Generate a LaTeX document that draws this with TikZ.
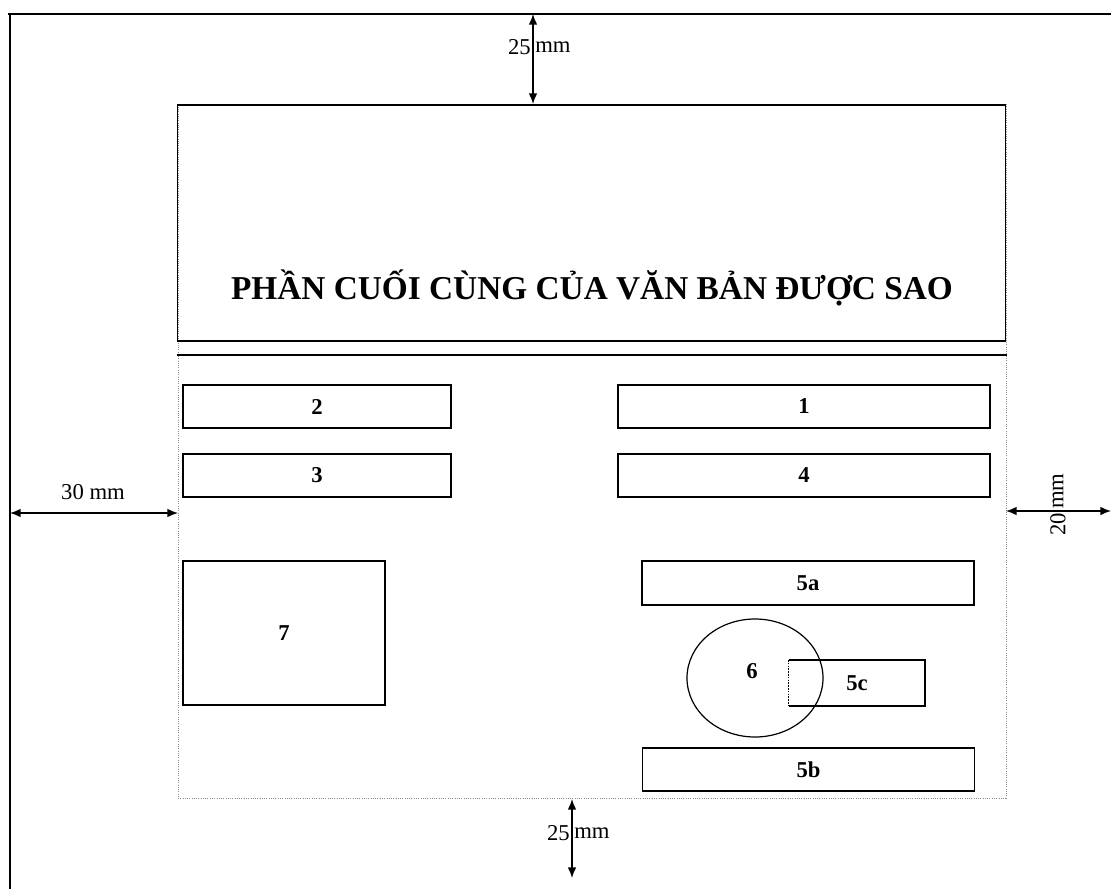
\documentclass[tikz,border=0pt]{standalone}
\usepackage{fontspec}
\setmainfont{Liberation Serif}
\usepackage{tikz}
\usetikzlibrary{shapes.geometric, arrows.meta, positioning}
\tikzset{
    field/.style={rectangle, draw=black, line width=1.4pt, minimum height=32.5pt, inner sep=0pt, text centered, font=\bfseries\fontsize{17}{20}\selectfont},
    narrowfield/.style={field, minimum width=201pt},
    widefield/.style={field, minimum width=279pt},
    signfield/.style={field, minimum width=249pt},
    stamp/.style={ellipse, draw=black, line width=0.9pt, minimum width=102pt, minimum height=88.5pt, inner sep=0pt},
    margin/.style={rectangle, draw=black!45, densely dotted, line width=0.7pt, minimum width=621pt, minimum height=520.5pt, inner sep=0pt},
    measure/.style={font=\fontsize{17}{20}\selectfont, inner sep=1.5pt},
    dimarrow/.style={line width=1.1pt, {Latex[length=8pt,width=6.5pt]}-{Latex[length=8pt,width=6.5pt]}}
}

\begin{document}
\begin{tikzpicture}[x=0.75pt, y=-0.75pt]
    \useasboundingbox (0,0) rectangle (1111,889);
    \draw [line width=1.6pt] (8,14) -- (1111,14);
    \draw [line width=2pt] (10,13) -- (10,889);

    \node (textarea) [margin] at (592,451) {};
    \node (finalpart) [rectangle, draw=black, line width=1.4pt, minimum width=621pt, minimum height=177pt, inner sep=0pt] at (591.5,223) {};
    \node (finaltitle) [font=\bfseries\fontsize{25}{30}\selectfont] at (592,288) {PHẦN CUỐI CÙNG CỦA VĂN BẢN ĐƯỢC SAO};
    \draw [line width=2pt] (177,355) -- (1007,355);

    \node (f2) [narrowfield] at (317,406.5) {2};
    \node (f1) [widefield] at (804,406.5) {1};
    \node (f3) [narrowfield] at (317,475.5) {3};
    \node (f4) [widefield] at (804,475.5) {4};
    \node (f7) [field, minimum width=151.5pt, minimum height=108pt] at (284,633) {7};
    \node (f5a) [signfield] at (808,583) {5a};
    \node (f5b) [signfield] at (808.5,769.5) {5b};
    \node (f6) [stamp] at (755,678) {};
    \node (f6label) [font=\bfseries\fontsize{17}{20}\selectfont] at (752,671) {6};
    \node (f5c) [field, draw=none, minimum width=101pt, minimum height=33pt] at (857,683) {5c};
    \draw [line width=1.4pt] (f5c.north west) -- (f5c.north east) -- (f5c.south east) -- (f5c.south west);
    \draw [line width=1.1pt, densely dotted] (f5c.north west) -- (f5c.south west);

    \coordinate (pagetop) at (533,14);
    \coordinate (areatop) at (533,104);
    \coordinate (pageleft) at (10,513);
    \coordinate (arealeft) at (178,513);
    \coordinate (arearight) at (1006,511);
    \coordinate (pageright) at (1111,511);
    \coordinate (areabottom) at (572,799);
    \coordinate (pagebottom) at (572,878);

    \draw [dimarrow] (pagetop) -- (areatop);
    \node (topgap) [measure, anchor=east] at (533,47) {25};
    \node (topunit) [measure, anchor=west] at (533,47) {mm};
    \draw [dimarrow] (pageleft) -- (arealeft);
    \node (leftgap) [measure] at (93,492) {30 mm};
    \draw [dimarrow] (arearight) -- (pageright);
    \node (rightgap) [measure, rotate=90, anchor=east] at (1058,511) {20};
    \node (rightunit) [measure, rotate=90, anchor=west] at (1058,511) {mm};
    \draw [dimarrow] (areabottom) -- (pagebottom);
    \node (bottomgap) [measure, anchor=east] at (572,833) {25};
    \node (bottomunit) [measure, anchor=west] at (572,833) {mm};
\end{tikzpicture}
\end{document}
